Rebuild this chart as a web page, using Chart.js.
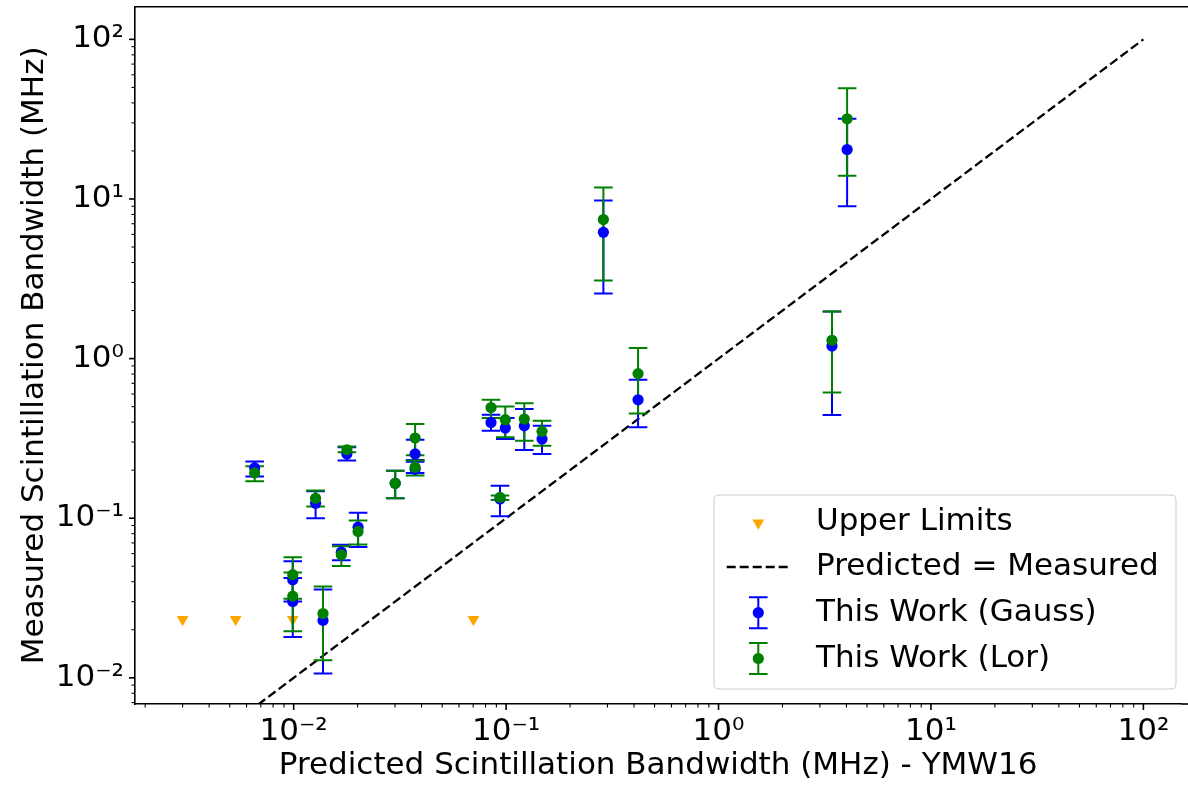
<!DOCTYPE html>
<html><head><meta charset="utf-8">
<script src="https://cdn.jsdelivr.net/npm/chart.js@4.4.0/dist/chart.umd.min.js"></script>
<style>html,body{margin:0;padding:0;background:#fff;}canvas{display:block;}</style>
</head><body>
<canvas id="c" width="1188" height="787"></canvas>
<script>
// ---- data ----
const predicted     = [0.00655, 0.01268, 0.0178, 0.01676, 0.0201, 0.03006, 0.0373, 0.0373, 0.0099, 0.0099, 0.01374, 0.0849, 0.0991, 0.1218, 0.1476, 0.0936, 0.418, 0.287, 4.03, 3.42];
const gaussMeasured = [0.2065, 0.124, 0.2527, 0.0613, 0.0879, 0.1655, 0.2527, 0.2023, 0.0412, 0.0301, 0.0229, 0.398, 0.367, 0.379, 0.313, 0.132, 0.552, 6.19, 20.4, 1.2];
const gaussLow      = [0.1824, 0.100, 0.2297, 0.0545, 0.0659, 0.1334, 0.2317, 0.192, 0.0301, 0.018, 0.01065, 0.353, 0.313, 0.2677, 0.2527, 0.103, 0.371, 2.56, 9.0, 0.443];
const gaussHigh     = [0.227, 0.1476, 0.278, 0.0682, 0.108, 0.1986, 0.3105, 0.226, 0.0538, 0.0422, 0.0357, 0.445, 0.424, 0.483, 0.379, 0.16, 0.736, 9.77, 31.8, 1.97];
const lorMeasured   = [0.1923, 0.1334, 0.2685, 0.059, 0.0826, 0.1655, 0.318, 0.2085, 0.0443, 0.0325, 0.02527, 0.494, 0.414, 0.418, 0.35, 0.135, 0.805, 7.43, 31.8, 1.303];
const lorLow        = [0.1703, 0.1184, 0.2585, 0.0501, 0.0685, 0.1334, 0.2477, 0.185, 0.0313, 0.0196, 0.0129, 0.424, 0.321, 0.306, 0.284, 0.130, 0.453, 3.09, 14.0, 0.613];
const lorHigh       = [0.2113, 0.149, 0.2818, 0.0668, 0.0968, 0.1986, 0.389, 0.2297, 0.057, 0.0457, 0.0374, 0.552, 0.501, 0.526, 0.408, 0.139, 1.167, 11.8, 49.4, 1.97];
const limitPredicted = [0.0030, 0.00533, 0.0099, 0.0702];
const limitMeasured  = [0.0232, 0.0232, 0.0232, 0.0232];
const equalityLine   = [0.001, 100];
const xTickExponents = [-2, -1, 0, 1, 2];
const yTickExponents = [-2, -1, 0, 1, 2];
const seriesLabels = ['Upper Limits', 'Predicted = Measured', 'This Work (Gauss)', 'This Work (Lor)'];
const xTitle = 'Predicted Scintillation Bandwidth (MHz) - YMW16';
const yTitle = 'Measured Scintillation Bandwidth (MHz)';

// ---- styling ----
const FONT = 'DejaVu Sans';
const FS = 31;
const BLUE = '#0000ff', GREEN = '#008000', ORANGE = '#ffa500';
const CAP = 9.3, BAR_W = 2, PT_R = 5.6, TRI_R = 6.8;

const SUP = {'-':'\u207B','0':'\u2070','1':'\u00B9','2':'\u00B2','3':'\u00B3','4':'\u2074','5':'\u2075','6':'\u2076','7':'\u2077','8':'\u2078','9':'\u2079'};
const sup = s => String(s).split('').map(c => SUP[c] || c).join('');

function logTicks(scale) {
  const out = [];
  for (let e = -4; e <= 3; e++) for (let m = 1; m <= 9; m++) {
    const v = m * Math.pow(10, e);
    if (v >= scale.min && v <= scale.max) out.push({value: v, major: m === 1});
  }
  scale.ticks = out;
}
function tickLabel(exps) {
  return function(value, index, ticks) {
    const t = ticks[index];
    if (!t.major) return '';
    const e = Math.round(Math.log10(value));
    return exps.includes(e) ? '10' + sup(e) : '';
  };
}
function zeroPad(s) { s.paddingLeft = 0; s.paddingRight = 0; s.paddingTop = 0; s.paddingBottom = 0; }
const pts = (xs, ys) => xs.map((x, i) => ({x: x, y: ys[i]}));

function drawBars(chart, ys, lo, hi, color) {
  const {ctx, chartArea: a} = chart;
  const sx = chart.scales.x, sy = chart.scales.y;
  ctx.save();
  ctx.beginPath(); ctx.rect(a.left, a.top, a.right - a.left, a.bottom - a.top); ctx.clip();
  ctx.strokeStyle = color; ctx.lineWidth = BAR_W; ctx.lineCap = 'butt';
  for (let i = 0; i < predicted.length; i++) {
    const px = sx.getPixelForValue(predicted[i]);
    const pl = sy.getPixelForValue(lo[i]);
    const ph = sy.getPixelForValue(hi[i]);
    ctx.beginPath();
    ctx.moveTo(px, pl); ctx.lineTo(px, ph);
    ctx.moveTo(px - CAP, pl); ctx.lineTo(px + CAP, pl);
    ctx.moveTo(px - CAP, ph); ctx.lineTo(px + CAP, ph);
    ctx.stroke();
  }
  ctx.restore();
}

const errorBarPlugin = {
  id: 'errorBars',
  afterDatasetDraw(chart, args) {
    if (args.index === 1) {
      drawBars(chart, gaussMeasured, gaussLow, gaussHigh, BLUE);
      drawBars(chart, lorMeasured, lorLow, lorHigh, GREEN);
    }
  }
};

function triangleDown(ctx, x, y, r) {
  ctx.beginPath();
  for (let k = 0; k < 3; k++) {
    const rad = Math.PI + k * 2 * Math.PI / 3;
    const px = x + Math.sin(rad) * r, py = y - Math.cos(rad) * r;
    if (k === 0) ctx.moveTo(px, py); else ctx.lineTo(px, py);
  }
  ctx.closePath(); ctx.fill();
}

const framePlugin = {
  id: 'frame',
  afterDraw(chart) {
    const {ctx, chartArea: a} = chart;
    ctx.save();
    // top spine (the axes continue past the right edge of the picture)
    ctx.strokeStyle = '#000'; ctx.lineWidth = 1.6;
    ctx.beginPath(); ctx.moveTo(a.left - 0.8, a.top); ctx.lineTo(chart.width, a.top); ctx.stroke();
    // tick marks
    const sx = chart.scales.x, sy = chart.scales.y;
    sx.ticks.forEach(t => {
      const p = sx.getPixelForValue(t.value);
      ctx.lineWidth = t.major ? 1.6 : 1.1;
      ctx.beginPath(); ctx.moveTo(p, a.bottom); ctx.lineTo(p, a.bottom + (t.major ? 6 : 3.5)); ctx.stroke();
    });
    sy.ticks.forEach(t => {
      const p = sy.getPixelForValue(t.value);
      ctx.lineWidth = t.major ? 1.6 : 1.1;
      ctx.beginPath(); ctx.moveTo(a.left, p); ctx.lineTo(a.left - (t.major ? 6 : 3.5), p); ctx.stroke();
    });
    // extend bottom spine to the picture edge
    ctx.beginPath(); ctx.moveTo(a.right, a.bottom); ctx.lineTo(chart.width, a.bottom); ctx.stroke();
    // legend
    const bw = 462, bh = 194;
    const bx = chart.width - 12 - bw, by = a.bottom - 15 - bh;
    const r = 5;
    ctx.beginPath();
    ctx.moveTo(bx + r, by); ctx.lineTo(bx + bw - r, by); ctx.quadraticCurveTo(bx + bw, by, bx + bw, by + r);
    ctx.lineTo(bx + bw, by + bh - r); ctx.quadraticCurveTo(bx + bw, by + bh, bx + bw - r, by + bh);
    ctx.lineTo(bx + r, by + bh); ctx.quadraticCurveTo(bx, by + bh, bx, by + bh - r);
    ctx.lineTo(bx, by + r); ctx.quadraticCurveTo(bx, by, bx + r, by);
    ctx.closePath();
    ctx.fillStyle = 'rgba(255,255,255,0.8)'; ctx.fill();
    ctx.strokeStyle = '#cccccc'; ctx.lineWidth = 1; ctx.stroke();
    const hx = bx + 44.3, tx = bx + 102;
    const rows = [by + 27, by + 72, by + 117.7, by + 163.5];
    ctx.fillStyle = ORANGE; triangleDown(ctx, hx, rows[0] + 1, TRI_R);
    ctx.strokeStyle = '#000'; ctx.lineWidth = 2.3; ctx.setLineDash([9, 4]);
    ctx.beginPath(); ctx.moveTo(hx - 31.6, rows[1]); ctx.lineTo(hx + 31.7, rows[1]); ctx.stroke();
    ctx.setLineDash([]);
    [[BLUE, rows[2]], [GREEN, rows[3]]].forEach(([c, y]) => {
      ctx.strokeStyle = c; ctx.lineWidth = BAR_W;
      ctx.beginPath();
      ctx.moveTo(hx, y - 15.5); ctx.lineTo(hx, y + 15.5);
      ctx.moveTo(hx - CAP, y - 15.5); ctx.lineTo(hx + CAP, y - 15.5);
      ctx.moveTo(hx - CAP, y + 15.5); ctx.lineTo(hx + CAP, y + 15.5);
      ctx.stroke();
      ctx.fillStyle = c; ctx.beginPath(); ctx.arc(hx, y, PT_R, 0, Math.PI * 2); ctx.fill();
    });
    ctx.fillStyle = '#000'; ctx.font = FS + 'px "' + FONT + '"';
    ctx.textAlign = 'left'; ctx.textBaseline = 'middle';
    seriesLabels.forEach((s, i) => ctx.fillText(s, tx, rows[i]));
    ctx.restore();
  }
};

new Chart(document.getElementById('c'), {
  data: {
    datasets: [
      {type: 'scatter', label: seriesLabels[0], data: pts(limitPredicted, limitMeasured), order: 3,
       pointStyle: 'triangle', rotation: 180, pointRadius: TRI_R, backgroundColor: ORANGE, borderWidth: 0, pointBorderWidth: 0},
      {type: 'line', label: seriesLabels[1], data: pts(equalityLine, equalityLine), order: 2,
       borderColor: '#000', borderWidth: 2.3, borderDash: [9, 4], pointRadius: 0, fill: false, tension: 0, clip: 0},
      {type: 'scatter', label: seriesLabels[2], data: pts(predicted, gaussMeasured), order: 1,
       pointStyle: 'circle', pointRadius: PT_R, backgroundColor: BLUE, borderWidth: 0, pointBorderWidth: 0},
      {type: 'scatter', label: seriesLabels[3], data: pts(predicted, lorMeasured), order: 0,
       pointStyle: 'circle', pointRadius: PT_R, backgroundColor: GREEN, borderWidth: 0, pointBorderWidth: 0}
    ]
  },
  options: {
    responsive: false, animation: false, devicePixelRatio: 1,
    layout: {padding: {top: 5, right: 0, bottom: 0, left: 0}},
    plugins: {legend: {display: false}, tooltip: {enabled: false}},
    scales: {
      x: {
        type: 'logarithmic', position: 'bottom',
        min: Math.pow(10, -2.747), max: Math.pow(10, 2.178),
        afterFit(s) { s.height = 83; zeroPad(s); },
        afterBuildTicks: logTicks,
        grid: {display: false, drawTicks: false, tickLength: 0},
        border: {display: true, color: '#000', width: 1.6},
        ticks: {autoSkip: false, maxRotation: 0, minRotation: 0, padding: 9, color: '#000',
                font: {family: FONT, size: FS}, callback: tickLabel(xTickExponents)},
        title: {display: true, text: xTitle, color: '#000', font: {family: FONT, size: FS}, padding: {top: 0, bottom: 2}}
      },
      y: {
        type: 'logarithmic', position: 'left',
        min: Math.pow(10, -2.164), max: Math.pow(10, 2.204),
        afterFit(s) { s.width = 135; zeroPad(s); },
        afterBuildTicks: logTicks,
        grid: {display: false, drawTicks: false, tickLength: 0},
        border: {display: true, color: '#000', width: 1.6},
        ticks: {autoSkip: false, padding: 11, color: '#000',
                font: {family: FONT, size: FS}, callback: tickLabel(yTickExponents)},
        title: {display: true, text: yTitle, color: '#000', font: {family: FONT, size: FS}, padding: {top: 16, bottom: 0}}
      }
    }
  },
  plugins: [errorBarPlugin, framePlugin]
});
</script>
</body></html>
